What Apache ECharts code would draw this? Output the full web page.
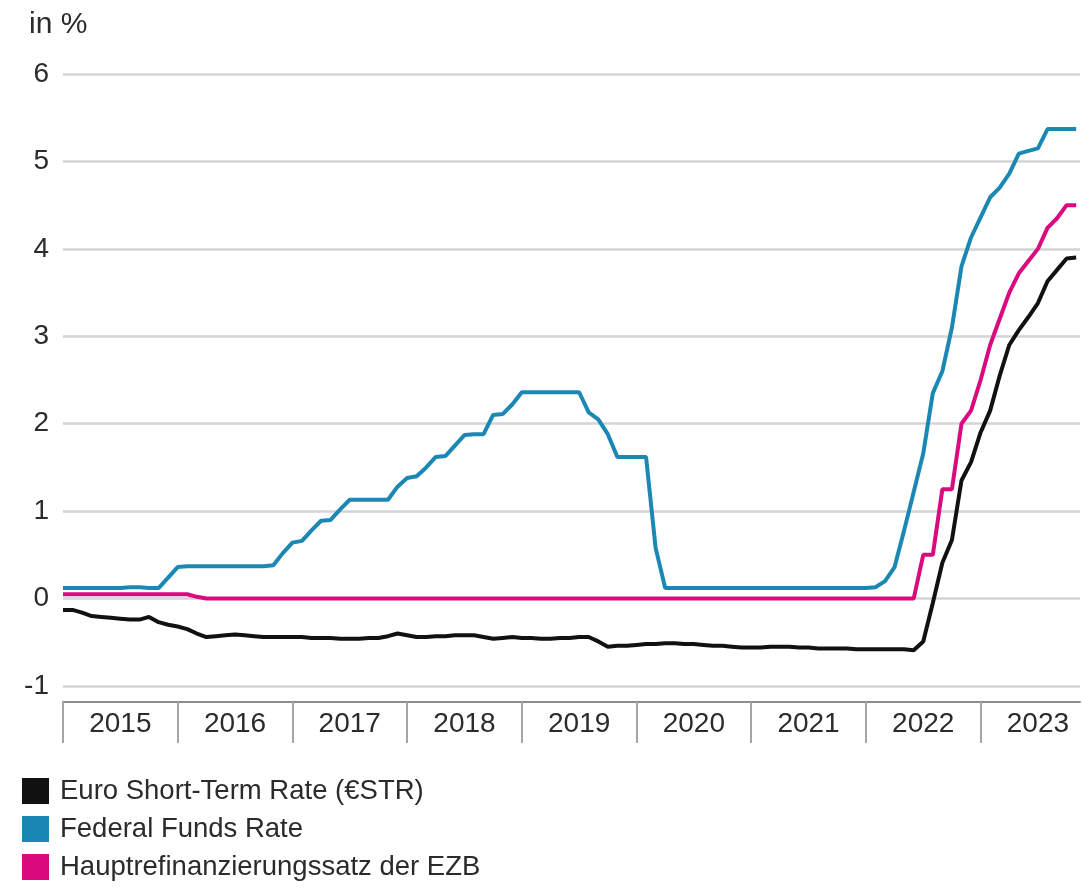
<!DOCTYPE html>
<html>
<head>
<meta charset="utf-8">
<script src="https://cdn.jsdelivr.net/npm/echarts@6/dist/echarts.min.js"></script>
<style>
html,body{margin:0;padding:0;background:#fff;}
#chart{width:1082px;height:888px;}
</style>
</head>
<body>
<div id="chart"></div>
<script>
// Monthly values, Jan 2015 (index 0) to Nov 2023 (index 106)
const years = ['2015','2016','2017','2018','2019','2020','2021','2022','2023'];
const yTicks = [-1,0,1,2,3,4,5,6];
const seriesNames = ['Euro Short-Term Rate (€STR)','Federal Funds Rate','Hauptrefinanzierungssatz der EZB'];

const estr = [
  -0.13,-0.13,-0.16,-0.20,-0.21,-0.22,-0.23,-0.24,-0.24,-0.21,-0.27,-0.30,
  -0.32,-0.35,-0.40,-0.44,-0.43,-0.42,-0.41,-0.42,-0.43,-0.44,-0.44,-0.44,
  -0.44,-0.44,-0.45,-0.45,-0.45,-0.46,-0.46,-0.46,-0.45,-0.45,-0.43,-0.40,
  -0.42,-0.44,-0.44,-0.43,-0.43,-0.42,-0.42,-0.42,-0.44,-0.46,-0.45,-0.44,
  -0.45,-0.45,-0.46,-0.46,-0.45,-0.45,-0.44,-0.44,-0.49,-0.55,-0.54,-0.54,
  -0.53,-0.52,-0.52,-0.51,-0.51,-0.52,-0.52,-0.53,-0.54,-0.54,-0.55,-0.56,
  -0.56,-0.56,-0.55,-0.55,-0.55,-0.56,-0.56,-0.57,-0.57,-0.57,-0.57,-0.58,
  -0.58,-0.58,-0.58,-0.58,-0.58,-0.59,-0.49,-0.05,0.41,0.67,1.35,1.56,
  1.90,2.15,2.55,2.90,3.07,3.22,3.38,3.63,3.76,3.89,3.90
];
const fed = [
  0.12,0.12,0.12,0.12,0.12,0.12,0.12,0.13,0.13,0.12,0.12,0.24,
  0.36,0.37,0.37,0.37,0.37,0.37,0.37,0.37,0.37,0.37,0.38,0.52,
  0.64,0.66,0.78,0.89,0.90,1.02,1.13,1.13,1.13,1.13,1.13,1.28,
  1.38,1.40,1.50,1.62,1.63,1.75,1.87,1.88,1.88,2.10,2.11,2.22,
  2.36,2.36,2.36,2.36,2.36,2.36,2.36,2.13,2.05,1.88,1.62,1.62,
  1.62,1.62,0.58,0.12,0.12,0.12,0.12,0.12,0.12,0.12,0.12,0.12,
  0.12,0.12,0.12,0.12,0.12,0.12,0.12,0.12,0.12,0.12,0.12,0.12,
  0.12,0.13,0.20,0.36,0.78,1.22,1.66,2.35,2.60,3.10,3.80,4.13,
  4.36,4.59,4.70,4.86,5.09,5.12,5.15,5.37,5.37,5.37,5.37
];
const mro = [
  0.05,0.05,0.05,0.05,0.05,0.05,0.05,0.05,0.05,0.05,0.05,0.05,
  0.05,0.05,0.02,0,0,0,0,0,0,0,0,0,
  0,0,0,0,0,0,0,0,0,0,0,0,
  0,0,0,0,0,0,0,0,0,0,0,0,
  0,0,0,0,0,0,0,0,0,0,0,0,
  0,0,0,0,0,0,0,0,0,0,0,0,
  0,0,0,0,0,0,0,0,0,0,0,0,
  0,0,0,0,0,0,0.50,0.50,1.25,1.25,2.00,2.15,
  2.50,2.90,3.20,3.50,3.72,3.86,4.00,4.24,4.35,4.50,4.50
];

const colors = ['#111111','#1a88b3','#d90b7e'];
const toPairs = arr => arr.map((v,i)=>[i,v]);
const yearTickValues = years.map((y,i)=>i*12);
const yearLabelValues = years.map((y,i)=>i*12+6);

const chart = echarts.init(document.getElementById('chart'), null, {renderer:'canvas'});
const font = '"Liberation Sans", Arial, sans-serif';
chart.setOption({
  animation:false,
  backgroundColor:'#ffffff',
  textStyle:{fontFamily:font},
  title:{text:'in %',left:24,top:5,textStyle:{fontSize:30,fontWeight:'normal',color:'#2b2b2b',fontFamily:font}},
  grid:{left:63,right:2,top:74,bottom:202,containLabel:false},
  legend:{
    orient:'vertical',left:22,top:777,itemWidth:27,itemHeight:26,itemGap:10,
    icon:'rect',padding:0,
    textStyle:{fontSize:27.5,color:'#2b2b2b',fontFamily:font,padding:[0,0,0,6]},
    data:seriesNames
  },
  xAxis:{
    type:'value',min:0,max:106.4,interval:12,offset:16,
    axisLine:{show:true,onZero:false,lineStyle:{color:'#8c8c8c',width:2}},
    axisTick:{show:true,length:41,customValues:yearTickValues,lineStyle:{color:'#a6a6a6',width:2}},
    axisLabel:{show:true,customValues:yearLabelValues,margin:8,fontSize:28,color:'#2b2b2b',fontFamily:font,
      formatter:v=>years[Math.round((v-6)/12)]||''},
    splitLine:{show:false}
  },
  yAxis:{
    type:'value',min:-1,max:6,interval:1,
    axisLine:{show:false},axisTick:{show:false},
    axisLabel:{margin:14,fontSize:28,color:'#2b2b2b',fontFamily:font,
      customValues:yTicks},
    splitLine:{show:true,lineStyle:{color:'#d4d4d4',width:2.5}}
  },
  series:[
    {name:seriesNames[1],type:'line',data:toPairs(fed),showSymbol:false,color:colors[1],lineStyle:{width:4,color:colors[1]},z:2},
    {name:seriesNames[2],type:'line',data:toPairs(mro),showSymbol:false,color:colors[2],lineStyle:{width:4,color:colors[2]},z:3},
    {name:seriesNames[0],type:'line',data:toPairs(estr),showSymbol:false,color:colors[0],lineStyle:{width:4,color:colors[0]},z:4}
  ]
});
</script>
</body>
</html>
